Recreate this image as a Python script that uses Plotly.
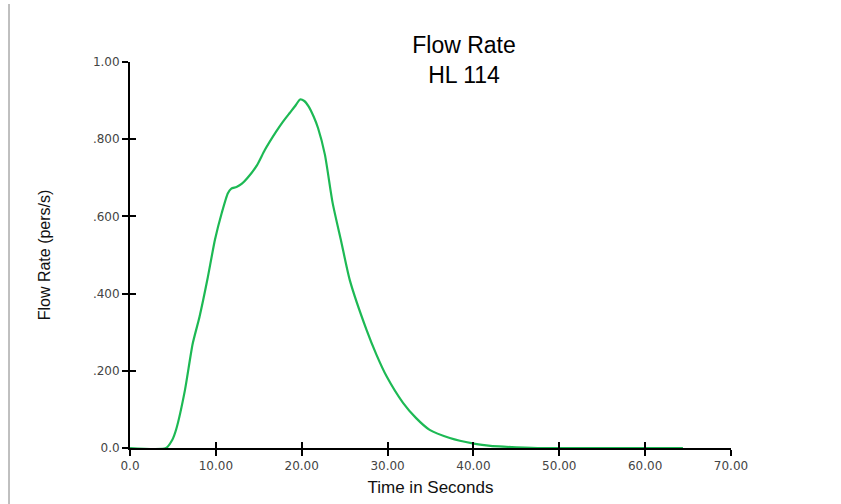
import plotly.graph_objects as go

# Data
time_s = [0.0, 4.2, 4.9, 5.4, 6.4, 7.3, 8.1, 9.0, 9.9, 10.7, 11.4, 11.8, 12.4, 13.0, 13.7,
          14.8, 15.7, 17.0, 17.8, 18.6, 19.3, 19.8, 20.3, 20.8, 21.4, 21.9, 22.7, 23.6,
          24.6, 25.6, 27.55, 28.7, 29.9, 31.8, 33.3, 34.9, 37.25, 39.9,
          41.5, 43.0, 45.0, 48.0, 55.0, 64.4]
flow = [0.0, 0.0, 0.02, 0.05, 0.15, 0.27, 0.34, 0.435, 0.54, 0.61, 0.66, 0.672, 0.676,
        0.684, 0.70, 0.733, 0.772, 0.819, 0.845, 0.868, 0.888, 0.903, 0.899, 0.885, 0.858,
        0.829, 0.76, 0.635, 0.535, 0.435, 0.306, 0.242, 0.185, 0.117, 0.078, 0.047,
        0.026, 0.012, 0.007, 0.004, 0.002, 0.0, 0.0, 0.0]

x_ticks = [0, 10, 20, 30, 40, 50, 60, 70]
x_tick_labels = ["0.0", "10.00", "20.00", "30.00", "40.00", "50.00", "60.00", "70.00"]
y_ticks = [0, 0.2, 0.4, 0.6, 0.8, 1.0]
y_tick_labels = ["0.0", ".200", ".400", ".600", ".800", "1.00"]

tick_font = dict(family="DejaVu Sans, sans-serif", size=12, color="#444444")
xtitle_font = dict(family="Liberation Sans, Arial, sans-serif", size=17, color="#111111")
ytitle_font = dict(family="Liberation Sans, Arial, sans-serif", size=16, color="#111111")

fig = go.Figure()
fig.add_trace(go.Scatter(x=time_s, y=flow, mode="lines",
                         line=dict(color="#1db954", width=2.2, shape="spline", smoothing=0.6),
                         showlegend=False, hoverinfo="x+y"))
# invisible trace to bind the overlay axes (inside half of the crossing ticks)
fig.add_trace(go.Scatter(x=[0], y=[0], xaxis="x2", yaxis="y2", mode="markers",
                         marker=dict(opacity=0), showlegend=False, hoverinfo="skip"))

common_x = dict(range=[0, 70], tickvals=x_ticks, showgrid=False, zeroline=False,
                ticklen=6, tickwidth=2, tickcolor="black")
common_y = dict(range=[0, 1.0], tickvals=y_ticks, showgrid=False, zeroline=False,
                ticklen=6, tickwidth=2, tickcolor="black")

fig.update_layout(
    width=841, height=504,
    paper_bgcolor="white", plot_bgcolor="white",
    margin=dict(l=130, r=110, t=62, b=56, autoexpand=False),
    title=dict(text="Flow Rate<br>HL 114", x=464 / 841, xref="container", xanchor="center",
               y=1 - 53 / 504, yref="container", yanchor="middle",
               font=dict(family="Liberation Sans, Arial, sans-serif", size=23, color="black")),
    xaxis=dict(**common_x, ticks="outside", ticktext=x_tick_labels, tickfont=tick_font,
               showline=True, linecolor="black", linewidth=2, automargin=False,
               title=dict(text="Time in Seconds", font=xtitle_font, standoff=9)),
    yaxis=dict(**common_y, ticks="outside", ticktext=y_tick_labels, tickfont=tick_font,
               showline=True, linecolor="black", linewidth=2, automargin=False,
               title=dict(text="Flow Rate (pers/s)", font=ytitle_font, standoff=38)),
    xaxis2=dict(**common_x, ticks="inside", showticklabels=False, overlaying="x",
                anchor="y2", showline=False),
    yaxis2=dict(**common_y, ticks="inside", showticklabels=False, overlaying="y",
                anchor="x2", showline=False),
    shapes=[dict(type="line", xref="paper", yref="paper",
                 x0=(9 - 130) / 601, x1=(9 - 130) / 601,
                 y0=-56 / 386, y1=(448 - 4) / 386,
                 line=dict(color="#808080", width=1))],
)

fig.write_html("out.html", config={"displayModeBar": False},
               post_script="document.body.style.margin='0';")
